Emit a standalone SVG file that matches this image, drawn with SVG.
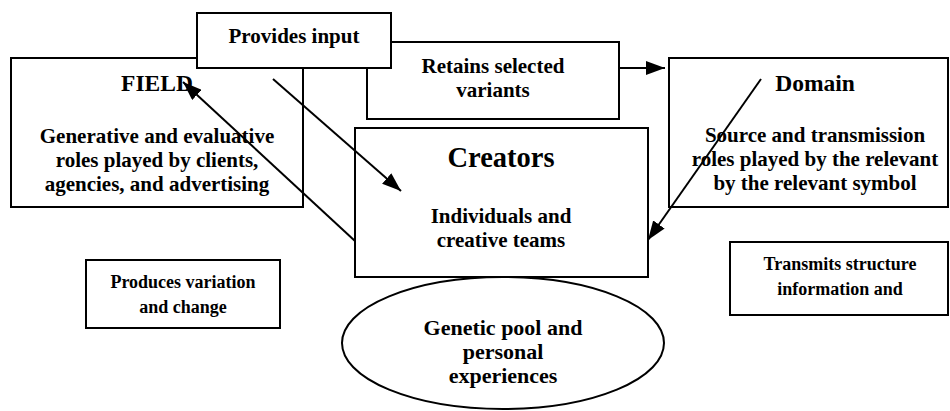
<svg xmlns="http://www.w3.org/2000/svg" width="950" height="411" viewBox="0 0 950 411">
<style>
.box{fill:#fff;stroke:#000;stroke-width:2}
text{font-family:"Liberation Serif","Times New Roman",serif;font-weight:bold;fill:#000;text-anchor:middle}
.b{font-size:21px}
.s{font-size:18px}
.t{font-size:23.5px}
.g{font-size:22px}
.c{font-size:28.5px}
.con{stroke:#000;stroke-width:2;fill:none;marker-end:url(#ah)}
</style>
<defs>
<marker id="ah" markerUnits="userSpaceOnUse" markerWidth="20" markerHeight="14" refX="19" refY="7" orient="auto">
<path d="M0,0 L19,7 L0,14 z" fill="#000"/>
</marker>
</defs>
<g id="field">
<rect class="box" x="11" y="58" width="292" height="149"/>
<text class="t" x="157" y="91">FIELD</text>
<text class="b" x="157" y="143">Generative and evaluative</text>
<text class="b" x="157" y="167">roles played by clients,</text>
<text class="b" x="157" y="191">agencies, and advertising</text>
</g>
<g id="retains">
<rect class="box" x="367" y="42" width="252" height="77"/>
<text class="b" x="493" y="73">Retains selected</text>
<text class="b" x="493" y="97">variants</text>
</g>
<g id="provides">
<rect class="box" x="197" y="13" width="194" height="55"/>
<text class="b" x="294" y="43">Provides input</text>
</g>
<g id="creators">
<rect class="box" x="355" y="128" width="293" height="149"/>
<text class="c" x="501" y="167">Creators</text>
<text class="b" x="501" y="223">Individuals and</text>
<text class="b" x="501" y="247">creative teams</text>
</g>
<g id="domain">
<rect class="box" x="669" y="58" width="279" height="149"/>
<text class="t" x="815" y="91">Domain</text>
<text class="b" x="815" y="142">Source and transmission</text>
<text class="b" x="815" y="166">roles played by the relevant</text>
<text class="b" x="815" y="190">by the relevant symbol</text>
</g>
<g id="produces">
<rect class="box" x="86" y="260" width="194" height="68"/>
<text class="s" x="183" y="288">Produces variation</text>
<text class="s" x="183" y="313">and change</text>
</g>
<g id="transmits">
<rect class="box" x="730" y="242" width="218" height="73"/>
<text class="s" x="840" y="270">Transmits structure</text>
<text class="s" x="840" y="295">information and</text>
</g>
<g id="genetic">
<ellipse class="box" cx="503" cy="343" rx="161" ry="66"/>
<text class="g" x="503" y="335">Genetic pool and</text>
<text class="g" x="503" y="359">personal</text>
<text class="g" x="503" y="383">experiences</text>
</g>
<g id="connectors">
<line class="con" x1="273" y1="79" x2="401" y2="191"/>
<line class="con" x1="355" y1="241" x2="183" y2="82"/>
<line class="con" x1="619" y1="68" x2="665" y2="68"/>
<line class="con" x1="761" y1="79" x2="648" y2="240"/>
</g>
</svg>
